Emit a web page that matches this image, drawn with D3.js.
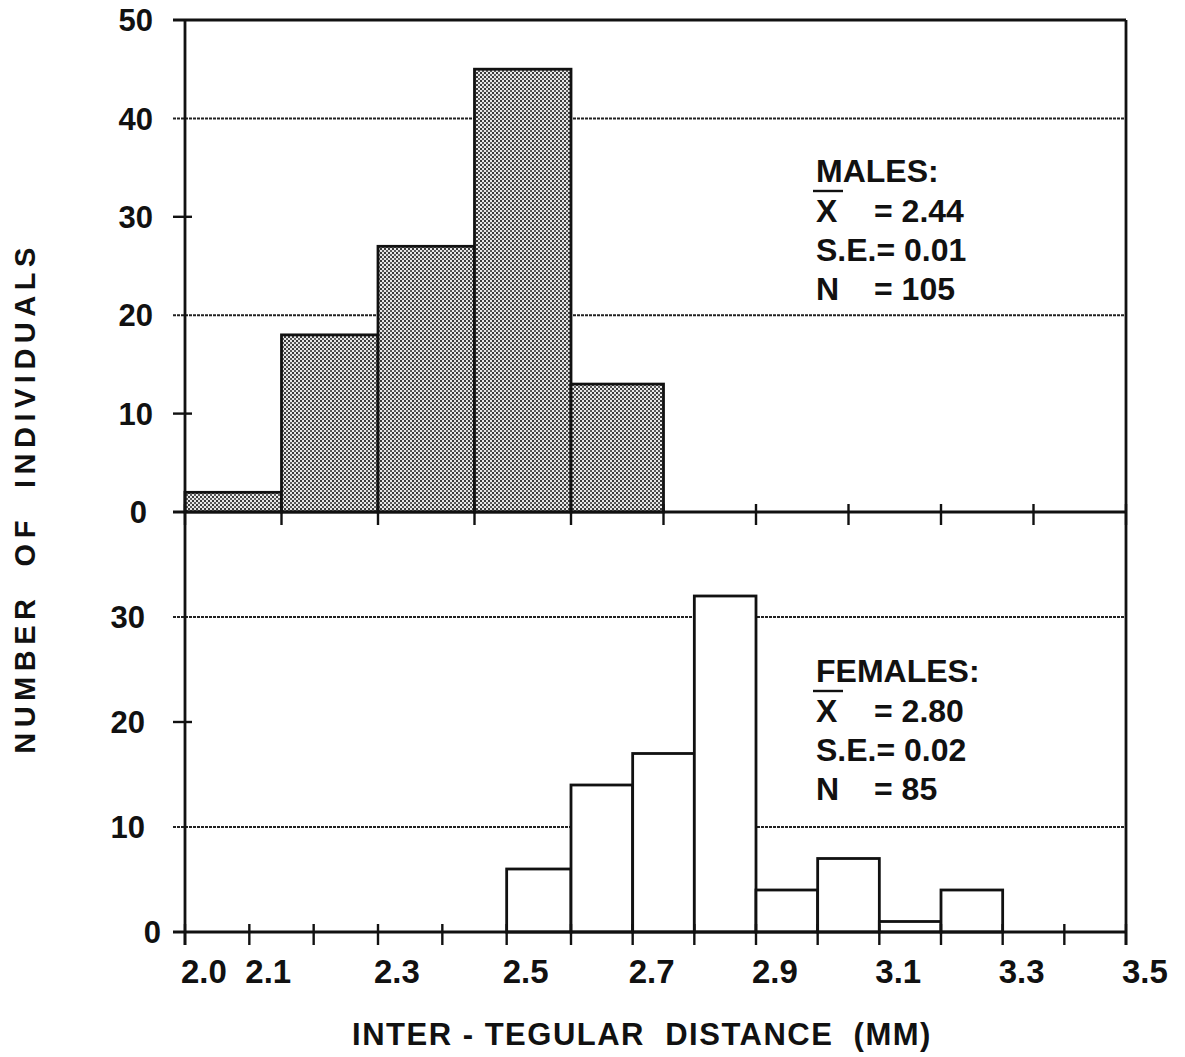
<!DOCTYPE html>
<html><head><meta charset="utf-8">
<script src="https://cdn.jsdelivr.net/npm/d3@7"></script>
<style>body{margin:0;background:#fff}svg{display:block}</style>
</head><body>
<svg id="c" width="1185" height="1057"></svg>
<script>
// ---- data ----
const maleEdges = [2.0, 2.15, 2.3, 2.45, 2.6, 2.75];
const maleCounts = [2, 18, 27, 45, 13];
const femaleEdges = [2.5, 2.6, 2.7, 2.8, 2.9, 3.0, 3.1, 3.2, 3.3];
const femaleCounts = [6, 14, 17, 32, 4, 7, 1, 4];
const maleTicksX = [2.0, 2.15, 2.3, 2.45, 2.6, 2.75, 2.9, 3.05, 3.2, 3.35, 3.5];
const femaleTicksX = [2.0, 2.1, 2.2, 2.3, 2.4, 2.5, 2.6, 2.7, 2.8, 2.9, 3.0, 3.1, 3.2, 3.3, 3.4, 3.5];
const xLabelValues = [2.0, 2.1, 2.3, 2.5, 2.7, 2.9, 3.1, 3.3, 3.5];
const xLabelText = ["2.0", "2.1", "2.3", "2.5", "2.7", "2.9", "3.1", "3.3", "3.5"];
const maleYLabels = [0, 10, 20, 30, 40, 50];
const maleGrid = [20, 40];
const maleTicksY = [10, 30];
const femaleYLabels = [0, 10, 20, 30];
const femaleGrid = [10, 30];
const femaleTicksY = [20];
const groupNames = ["MALES:", "FEMALES:"];
const groupMeans = ["2.44", "2.80"];
const groupSE = ["0.01", "0.02"];
const groupN = ["105", "85"];
const xTitle = "INTER - TEGULAR  DISTANCE  (MM)";
const yTitle = "NUMBER  OF  INDIVIDUALS";

// ---- layout ----
const FONT = "'Liberation Sans', Arial, Helvetica, sans-serif";
const svg = d3.select("#c");
const x = d3.scaleLinear().domain([2.0, 2.6, 3.5]).range([185, 571, 1126]);
const yTop = d3.scaleLinear().domain([0, 50]).range([512, 20]);
const yBot = d3.scaleLinear().domain([0, 40]).range([932, 512]);
const X0 = x(2.0), X1 = x(3.5);

// dot pattern for male bars
const defs = svg.append("defs");
const pat = defs.append("pattern").attr("id", "dots").attr("patternUnits", "userSpaceOnUse")
  .attr("width", 4).attr("height", 4);
pat.append("rect").attr("width", 4).attr("height", 4).attr("fill", "#e8e8e8");
pat.append("rect").attr("x", 0).attr("y", 0).attr("width", 2).attr("height", 2).attr("fill", "#3a3a3a");
pat.append("rect").attr("x", 2).attr("y", 2).attr("width", 2).attr("height", 2).attr("fill", "#5a5a5a");

function panel(y, grid, ticksY, labels, edges, counts, fill, ticksX, labelEnd, zeroEnd) {
  const g = svg.append("g");
  g.selectAll(".grid").data(grid).join("line")
    .attr("x1", X0 - 12).attr("x2", X1).attr("y1", d => y(d)).attr("y2", d => y(d))
    .attr("stroke", "#222").attr("stroke-width", 2).attr("stroke-dasharray", "3 1");
  g.selectAll(".bar").data(counts).join("rect")
    .attr("x", (d, i) => x(edges[i])).attr("width", (d, i) => x(edges[i + 1]) - x(edges[i]))
    .attr("y", d => y(d)).attr("height", d => y(0) - y(d))
    .attr("fill", fill).attr("stroke", "#111").attr("stroke-width", 2.8);
  g.selectAll(".yt").data(ticksY).join("line")
    .attr("x1", X0 - 12).attr("x2", X0 + 7).attr("y1", d => y(d)).attr("y2", d => y(d))
    .attr("stroke", "#111").attr("stroke-width", 2.4);
  g.append("line").attr("x1", X0 - 12).attr("x2", X1).attr("y1", y(0)).attr("y2", y(0))
    .attr("stroke", "#111").attr("stroke-width", 2.8);
  g.selectAll(".xt").data(ticksX).join("line")
    .attr("x1", d => x(d)).attr("x2", d => x(d)).attr("y1", y(0) - 8).attr("y2", y(0) + 13)
    .attr("stroke", "#111").attr("stroke-width", 2.4);
  g.selectAll(".yl").data(labels).join("text")
    .attr("x", d => d === 0 ? zeroEnd : labelEnd).attr("y", d => y(d)).attr("dy", "0.36em")
    .attr("text-anchor", "end").attr("font-family", FONT).attr("font-weight", "bold")
    .attr("font-size", 31).attr("fill", "#111").text(d => d);
}

panel(yTop, maleGrid, maleTicksY, maleYLabels, maleEdges, maleCounts, "url(#dots)", maleTicksX, 153, 147);
panel(yBot, femaleGrid, femaleTicksY, femaleYLabels, femaleEdges, femaleCounts, "#fff", femaleTicksX, 145, 161);

// frame: top, left, right
svg.append("line").attr("x1", X0 - 12).attr("x2", X1).attr("y1", yTop(50)).attr("y2", yTop(50))
  .attr("stroke", "#111").attr("stroke-width", 2.8);
svg.append("line").attr("x1", X0).attr("x2", X0).attr("y1", yTop(50)).attr("y2", yBot(0) + 13)
  .attr("stroke", "#111").attr("stroke-width", 2.8);
svg.append("line").attr("x1", X1).attr("x2", X1).attr("y1", yTop(50)).attr("y2", yBot(0) + 13)
  .attr("stroke", "#111").attr("stroke-width", 2.8);

// x labels
svg.selectAll(".xl").data(xLabelValues).join("text")
  .attr("x", d => x(d) - 4).attr("y", 983)
  .attr("font-family", FONT).attr("font-weight", "bold").attr("font-size", 33)
  .attr("fill", "#111").text((d, i) => xLabelText[i]);

// legends
const legendTop = [182, 682];
groupNames.forEach((nm, i) => {
  const lx = 816, b = legendTop[i];
  const t = (s, xx, yy) => svg.append("text").attr("x", xx).attr("y", yy)
    .attr("font-family", FONT).attr("font-weight", "bold").attr("font-size", 32)
    .attr("fill", "#111").style("white-space", "pre").text(s);
  t(nm, lx, b);
  t("X", lx, b + 40);
  svg.append("line").attr("x1", lx - 3).attr("x2", lx + 27).attr("y1", b + 9).attr("y2", b + 9)
    .attr("stroke", "#111").attr("stroke-width", 2.4);
  t("= " + groupMeans[i], lx + 58, b + 40);
  t("S.E.= " + groupSE[i], lx, b + 79);
  t("N", lx, b + 118);
  t("= " + groupN[i], lx + 58, b + 118);
});

// axis titles
svg.append("text").attr("x", 642).attr("y", 1045).attr("text-anchor", "middle")
  .attr("font-family", FONT).attr("font-weight", "bold").attr("font-size", 31)
  .attr("letter-spacing", 1.5).style("white-space", "pre").attr("fill", "#111").text(xTitle);
svg.append("text").attr("transform", "translate(35,498) rotate(-90)").attr("text-anchor", "middle")
  .attr("font-family", FONT).attr("font-weight", "bold").attr("font-size", 29)
  .attr("letter-spacing", 5.5).style("white-space", "pre").attr("fill", "#111").text(yTitle);
</script>
</body></html>
